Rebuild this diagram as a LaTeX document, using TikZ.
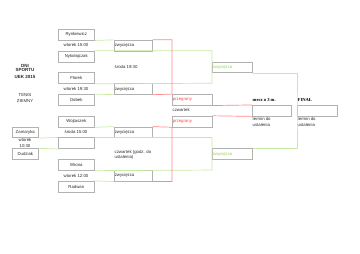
\documentclass[tikz,border=0pt]{standalone}
\usepackage{fontspec}
\setmainfont{Liberation Sans}
\newfontfamily\serifb{Liberation Serif}
\definecolor{bgray}{RGB}{178,178,178}
\definecolor{lgreen}{RGB}{200,232,165}
\definecolor{tgreen}{RGB}{150,205,90}
\definecolor{lred}{RGB}{255,135,135}
\definecolor{tred}{RGB}{255,70,70}
\definecolor{txtc}{RGB}{40,40,40}
\tikzset{
  cell/.style={draw=bgray, line width=0.6pt, inner sep=0pt, minimum height=10.85pt,
    anchor=north west, text=txtc, font=\fontsize{4.3}{5}\selectfont},
  namebox/.style={cell, minimum width=36pt},
  winbox/.style={cell, text width=37pt, inner xsep=0.5pt, align=left},
  lossbox/.style={cell, text width=39pt, inner xsep=0.5pt, align=left, text=tred},
  gwbox/.style={cell, text width=39pt, inner xsep=0.5pt, align=left, text=tgreen},
  txt/.style={inner sep=0pt, text=txtc, font=\fontsize{4.3}{5.3}\selectfont},
  htxt/.style={inner sep=0pt, text=txtc, font=\fontsize{4.5}{5.3}\selectfont\bfseries},
  stxt/.style={inner sep=0pt, text=black, font=\fontsize{4.6}{5.3}\selectfont\serifb\bfseries},
  gline/.style={draw=lgreen, line width=0.7pt},
  rline/.style={draw=lred, line width=0.7pt},
}
\begin{document}
\begin{tikzpicture}
\useasboundingbox (0pt,0pt) rectangle (360pt,-254pt);
\begin{scope}[shift={(0pt,-29pt)}, x=1pt, y=-10.85pt]
% header
\node[htxt] (h1) at (25,3.36) {DNI};
\node[htxt] (h2) at (25,3.82) {SPORTU};
\node[htxt] (h3) at (25,4.42) {UEK 2015};
\node[txt] (h4) at (25,6.13) {TENIS};
\node[txt] (h5) at (25,6.63) {ZIEMNY};
% first round
\node[namebox] (ryn) at (58,0) {Rynkiewicz};
\node[txt] (t1) at (76,1.5) {wtorek 15:00};
\node[namebox] (nyk) at (58,2) {Nykołajczak};
\node[namebox] (flo) at (58,4) {Florek};
\node[txt] (t2) at (76,5.5) {wtorek 19:30};
\node[namebox] (dob) at (58,6) {Dobek};
\node[namebox] (woj) at (58,8) {Wojtaszek};
\node[txt] (t3) at (76,9.5) {środa 15:00};
\node[namebox] (emp) at (58,10) {};
\node[namebox] (wro) at (58,12) {Wrona};
\node[txt] (t4) at (76,13.5) {wtorek 12:00};
\node[namebox] (rad) at (58,14) {Radwan};
\node[cell, minimum width=26pt] (zam) at (12,9) {Zamaryka};
\node[txt, align=center] (t5) at (25,10.5) {wtorek\\10:30};
\node[cell, minimum width=26pt] (dud) at (12,11) {Dudziak};
% winners
\node[winbox] (z1) at (114,1) {zwycięzca};
\node[winbox] (z2) at (114,5) {zwycięzca};
\node[winbox] (z3) at (114,9) {zwycięzca};
\node[winbox] (z4) at (114,13) {zwycięzca};
\node[txt, anchor=west] (s1) at (114.5,3.5) {środa 19:30};
\node[txt, anchor=west, align=left] (s2) at (114.5,11.6) {czwartek (godz. do\\ustalenia)};
% semis results
\node[lossbox] (p1) at (172,6) {przegrany};
\node[txt, anchor=west] (s3) at (172.5,7.5) {czwartek};
\node[lossbox] (p2) at (172,8) {przegrany};
\node[gwbox] (gw1) at (212,3) {zwycięzca};
\node[gwbox] (gw2) at (212,11) {zwycięzca};
% finals
\node[cell, minimum width=39pt] (m3) at (252,7) {};
\node[cell, minimum width=40pt] (fin) at (297,7) {};
\node[stxt, anchor=west] (l1) at (252.5,6.55) {mecz o 3 m.};
\node[stxt, anchor=west] (l2) at (297.5,6.55) {FINAŁ};
\node[txt, anchor=west, align=left] (l3) at (252.5,8.57) {termin do\\ustalenia};
\node[txt, anchor=west, align=left] (l4) at (297.5,8.57) {termin do\\ustalenia};
% coordinates
\coordinate (gA) at (212,2);
\coordinate (gB) at (212,5);
\coordinate (gC) at (212,10);
\coordinate (gD) at (212,13);
% green connectors
\draw[gline] (ryn.south east) -- (z1.north west);
\draw[gline] (nyk.north east) -- (gA) -- (gB) -- (flo.south east);
\draw[gline] (dob.north east) -- (z2.south west);
\draw[gline] (woj.south east) -- (z3.north west);
\draw[gline] (emp.north east) -- (gC) -- (gD) -- (wro.south east);
\draw[gline] (rad.north east) -- (z4.south west);
\draw[gline] (zam.south east) -- (emp.north west);
\draw[gline] (dud.north east) -- (emp.south west);
\draw[gline] (gw1.south east) -| (fin.west) |- (gw2.north east);
% red connectors
\draw[rline] (z1.north east) -| (p1.north west) -- (z2.south east);
\draw[rline] (z3.north east) -- (p2.south west) |- (z4.south east);
\draw[rline] (p1.south east) -- (m3.north west);
\draw[rline] (p2.north east) -- (m3.south west);
\end{scope}
\end{tikzpicture}
\end{document}
